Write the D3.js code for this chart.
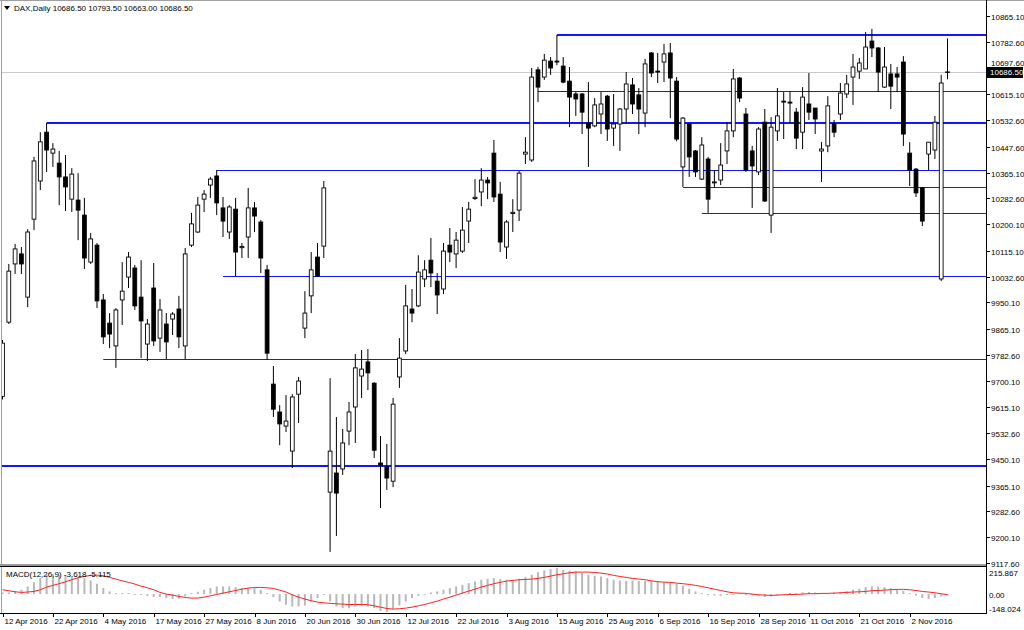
<!DOCTYPE html>
<html><head><meta charset="utf-8">
<script src="https://cdn.jsdelivr.net/npm/d3@7"></script>
<style>
body{margin:0;background:#fff}
svg{display:block}
text{font-family:"Liberation Sans",Arial,sans-serif;font-size:8px;fill:#000}
</style>
</head><body>
<svg id="c" width="1024" height="630"></svg>
<script>
// ---- DATA ----
const opens=[9650,9887,10073,10105,9967,10216,10338,10494,10427,10395,10351,10280,10277,10229,10079,10133,9958,9884,9811,9958,10031,10060,9967,9817,9996,9836,9881,9897,9929,9811,10133,10175,10280,10325,10354,10252,10175,10248,10125,10159,10252,10207,10054,9689,9600,9555,9475,9657,9868,9971,10095,10130,9344,9405,9418,9539,9616,9715,9760,9692,9437,9424,9379,9712,9795,9929,9939,10025,10085,10018,9993,10133,10105,10114,10210,10282,10303,10341,10427,10296,10127,10234,10245,10424,10405,10693,10670,10721,10718,10705,10657,10616,10616,10523,10514,10552,10609,10507,10520,10568,10645,10613,10555,10747,10689,10718,10747,10657,10383,10520,10434,10344,10408,10332,10341,10434,10498,10667,10552,10434,10367,10526,10229,10498,10590,10590,10558,10494,10584,10571,10434,10450,10520,10552,10616,10670,10689,10696,10785,10763,10638,10680,10680,10718,10427,10376,10316,10424,10437,10025,10686.5];
const highs=[9830,10073,10137,10127,10184,10415,10494,10523,10459,10434,10421,10379,10363,10284,10172,10140,9977,9916,9932,10079,10111,10070,10085,9897,10076,9961,9916,9919,9971,10124,10236,10287,10309,10351,10373,10287,10261,10284,10140,10316,10271,10213,10070,9747,9622,9654,9657,9712,9986,10111,10140,10338,9708,9584,9546,9632,9785,9798,9801,9695,9523,9498,9645,9836,10006,9993,10101,10085,10156,10044,10140,10188,10175,10255,10271,10344,10379,10351,10469,10335,10213,10280,10370,10478,10699,10702,10744,10734,10804,10734,10702,10622,10619,10654,10603,10622,10613,10616,10571,10686,10667,10635,10728,10750,10747,10776,10779,10670,10542,10523,10437,10478,10415,10373,10459,10526,10696,10670,10571,10450,10510,10568,10542,10635,10622,10625,10571,10638,10683,10571,10462,10609,10533,10651,10677,10744,10731,10814,10824,10766,10766,10712,10702,10737,10462,10379,10319,10462,10546,10677,10793.5];
const lows=[9640,9881,10041,10041,9935,10181,10309,10367,10383,10261,10242,10239,10149,10057,10073,9932,9817,9804,9741,9878,9996,9926,9772,9763,9811,9792,9769,9846,9804,9769,10127,10172,10239,10284,10229,10159,10153,10034,10092,10092,10175,10044,9766,9584,9494,9536,9421,9565,9836,9916,10031,10092,9153,9204,9399,9494,9501,9645,9670,9453,9293,9351,9360,9677,9785,9887,9935,9999,9999,9913,9977,10079,10060,10108,10140,10277,10258,10280,10271,10111,10089,10175,10210,10392,10399,10590,10661,10677,10708,10650,10510,10546,10488,10383,10510,10488,10466,10450,10434,10520,10552,10488,10510,10670,10651,10654,10539,10465,10319,10351,10351,10341,10236,10316,10325,10392,10478,10590,10367,10252,10357,10271,10172,10466,10472,10523,10440,10440,10533,10488,10335,10430,10478,10533,10603,10581,10664,10696,10734,10622,10635,10568,10622,10450,10322,10287,10194,10373,10408,10018,10663];
const closes=[9820,10050,10121,10073,10175,10402,10463,10437,10440,10351,10319,10360,10245,10092,10153,9955,9840,9849,9926,9986,10095,9939,9891,9881,9827,9926,9824,9913,9840,10105,10201,10261,10296,10344,10268,10210,10255,10111,10129,10252,10226,10092,9788,9609,9562,9571,9648,9699,9916,10054,10034,10316,9475,9341,9501,9600,9741,9737,9725,9478,9431,9389,9625,9772,9939,9916,10047,10054,10044,9974,10114,10111,10149,10181,10248,10286,10341,10332,10287,10143,10207,10238,10363,10430,10670,10638,10724,10699,10721,10654,10606,10600,10558,10507,10581,10584,10504,10520,10568,10648,10584,10568,10712,10683,10686,10744,10667,10472,10539,10415,10367,10453,10280,10335,10389,10498,10664,10603,10373,10386,10504,10274,10510,10546,10593,10587,10475,10606,10558,10536,10440,10578,10494,10619,10648,10702,10715,10766,10763,10686,10702,10641,10670,10488,10373,10300,10210,10462,10526,10651,10686.5];
const macdMain=[14,14,22,36,63,97,132,160,166,160,155,146,141,132,113,86,50,22,8,8,8,-2,-6,-14,-25,-25,-33,-39,-39,-19,1,19,36,50,63,63,63,58,50,50,50,36,8,-25,-61,-88,-102,-102,-94,-61,-33,-6,-61,-102,-116,-116,-102,-97,-102,-116,-140,-148,-122,-94,-61,-33,-14,-1,14,22,36,50,63,77,91,105,119,127,132,124,119,116,127,141,160,180,196,207,216,201,193,188,174,160,152,146,132,119,113,110,110,110,110,110,110,99,99,86,69,44,22,8,-6,-11,-14,-8,-1,3,-3,-8,-14,-25,-19,-11,-1,6,3,14,17,14,6,8,14,17,25,36,44,58,63,63,58,50,41,28,8,-11,-33,-39,-33,-19,-3.6];
const macdSignal=[36,28,19,14,17,22,36,58,72,86,102,119,135,146,155,157,152,138,124,110,97,83,66,52,36,14,0,-8,-19,-28,-33,-33,-25,-14,-3,8,19,30,41,50,55,55,52,47,33,17,-6,-25,-41,-55,-66,-72,-77,-80,-83,-86,-86,-86,-88,-97,-108,-119,-124,-121,-116,-108,-97,-86,-72,-58,-41,-25,-8,8,25,41,58,72,86,97,108,113,119,121,124,130,138,149,160,168,177,182,182,182,179,174,166,155,146,138,130,124,119,110,102,99,97,91,86,80,72,63,52,41,30,19,11,8,6,0,-6,-8,-11,-8,-6,-3,-3,0,3,3,6,6,8,11,14,17,19,22,28,30,33,36,39,39,36,30,22,17,11,3,-5.1];
const timeLabels=["12 Apr 2016","22 Apr 2016","4 May 2016","17 May 2016","27 May 2016","8 Jun 2016","20 Jun 2016","30 Jun 2016","12 Jul 2016","22 Jul 2016","3 Aug 2016","15 Aug 2016","25 Aug 2016","6 Sep 2016","16 Sep 2016","28 Sep 2016","11 Oct 2016","21 Oct 2016","2 Nov 2016"];
const timeLabelBars=[0,8,16,24,32,40,48,56,64,72,80,88,96,104,112,120,128,136,144];
const priceTicks=[10865.10,10782.60,10697.60,10615.10,10532.60,10447.60,10365.10,10282.60,10200.10,10115.10,10032.60,9950.10,9865.10,9782.60,9700.10,9615.10,9532.60,9450.10,9365.10,9282.60,9200.10,9117.60];
const macdTicks=[215.867,0,-148.024];
const levelPrices=[10804,10625,10522,10372,10319,10236,10034,9769,9427];
const levelStartBars=[88,85,7,34,108,111,35,16,0];
const bidPrice=10686.5;
const headerText="DAX,Daily  10686.50 10793.50 10663.00 10686.50";
const macdText="MACD(12,26,9) -3.618 -5.115";

// ---- LAYOUT ----
const svg=d3.select("#c");
const axisX=986, mainTop=1, mainBot=564, macdTop=566, macdBot=613;
const n=closes.length;
const x=d3.scaleLinear().domain([0,n-1]).range([2.5,947.5]);
const y=d3.scaleLinear().domain([9117.6,10865.1]).range([563,16]);
const ym=d3.scaleLinear().domain([-148.024,215.867]).range([612,568]);
const thickLevels=new Set([0,2,8]);

svg.append("rect").attr("width",1024).attr("height",630).attr("fill","#fff");
const defs=svg.append("defs");
defs.append("clipPath").attr("id","mc").append("rect")
  .attr("x",1).attr("y",mainTop).attr("width",axisX-1).attr("height",mainBot-mainTop);
defs.append("clipPath").attr("id","mm").append("rect")
  .attr("x",1).attr("y",macdTop).attr("width",axisX-1).attr("height",macdBot-macdTop);

const g=svg.append("g").attr("clip-path","url(#mc)");
// bid line
const byl=Math.round(y(bidPrice))+0.5;
g.append("line").attr("x1",0).attr("x2",axisX).attr("y1",byl).attr("y2",byl)
 .attr("stroke","#c8c8c8").attr("stroke-width",1);
// levels
levelPrices.forEach((p,i)=>{
  const yy=Math.round(y(p))+(thickLevels.has(i)?0:0.5);
  g.append("line").attr("x1",levelStartBars[i]===0?0:x(levelStartBars[i])).attr("x2",axisX)
   .attr("y1",yy).attr("y2",yy).attr("stroke","#1515ff").attr("stroke-width",thickLevels.has(i)?2:1);
});
// candles
const idx=d3.range(n);
g.selectAll("line.w").data(idx).join("line").attr("class","w")
 .attr("x1",i=>x(i)).attr("x2",i=>x(i)).attr("y1",i=>y(highs[i])).attr("y2",i=>y(lows[i]))
 .attr("stroke","#000").attr("stroke-width",1);
g.selectAll("rect.b").data(idx).join("rect").attr("class","b")
 .attr("x",i=>x(i)-1.9).attr("width",3.8)
 .attr("y",i=>Math.min(y(opens[i]),y(closes[i])))
 .attr("height",i=>Math.max(0.6,Math.abs(y(opens[i])-y(closes[i]))))
 .attr("fill",i=>closes[i]>=opens[i]?"#fff":"#000")
 .attr("stroke","#000").attr("stroke-width",0.9);

// macd
const gm=svg.append("g").attr("clip-path","url(#mm)");
gm.selectAll("line.h").data(idx).join("line").attr("class","h")
 .attr("x1",i=>x(i)).attr("x2",i=>x(i)).attr("y1",ym(0)).attr("y2",i=>{const v=ym(macdMain[i]);return Math.abs(v-ym(0))<1?ym(0)+(macdMain[i]>=0?-1:1):v;})
 .attr("stroke","#b8b8b8").attr("stroke-width",2);
gm.append("path").datum(idx).attr("fill","none").attr("stroke","#ff2020").attr("stroke-width",1)
 .attr("d",d3.line().x(i=>x(i)).y(i=>ym(macdSignal[i])));

// frames
svg.append("line").attr("x1",0).attr("x2",1024).attr("y1",0.5).attr("y2",0.5).attr("stroke","#a0a0a0");
svg.append("line").attr("x1",1.5).attr("x2",1.5).attr("y1",0).attr("y2",613).attr("stroke","#a0a0a0");
svg.append("rect").attr("x",0).attr("y",mainBot).attr("width",axisX).attr("height",2).attr("fill","#9a9a9a");
svg.append("line").attr("x1",0).attr("x2",axisX).attr("y1",macdTop+0.5).attr("y2",macdTop+0.5).attr("stroke","#000");
svg.append("line").attr("x1",0).attr("x2",axisX+0.5).attr("y1",macdBot+0.5).attr("y2",macdBot+0.5).attr("stroke","#000");
svg.append("line").attr("x1",axisX+0.5).attr("x2",axisX+0.5).attr("y1",0).attr("y2",macdBot+1).attr("stroke","#000");

// price axis
const pa=svg.append("g");
const by=Math.round(y(bidPrice));
priceTicks.forEach(p=>{
  const yy=Math.round(y(p))+0.5;
  pa.append("line").attr("x1",axisX).attr("x2",axisX+4).attr("y1",yy).attr("y2",yy).attr("stroke","#000");
  // label hidden behind the bid box is nudged up so it peeks out above it
  const ty=Math.abs(yy-by)<8?by-6:yy+3;
  pa.append("text").attr("x",axisX+5).attr("y",ty).text(p.toFixed(2));
});
// bid box
pa.append("rect").attr("x",axisX+1).attr("y",by-5).attr("width",1024-axisX-2).attr("height",11).attr("fill","#000");
pa.append("text").attr("x",axisX+4).attr("y",by+3).style("fill","#fff").text(bidPrice.toFixed(2));

// macd axis
macdTicks.forEach((v,i)=>{
  const yy=i===0?572.5:(i===2?609:Math.round(ym(v))+0.5);
  pa.append("text").attr("x",axisX+3).attr("y",yy+3).text(i===1?"0.00":v.toFixed(3));
});

// time axis
timeLabels.forEach((t,i)=>{
  const xx=Math.round(x(timeLabelBars[i]))+0.5;
  svg.append("line").attr("x1",xx).attr("x2",xx).attr("y1",macdBot).attr("y2",macdBot+4).attr("stroke","#000");
  svg.append("text").attr("x",xx+1).attr("y",624).text(t);
});

// header texts
svg.append("path").attr("d","M4,6 L10,6 L7,10 Z").attr("fill","#000");
svg.append("text").attr("x",14).attr("y",11).text(headerText);
svg.append("text").attr("x",6).attr("y",577).text(macdText);
</script>
</body></html>
